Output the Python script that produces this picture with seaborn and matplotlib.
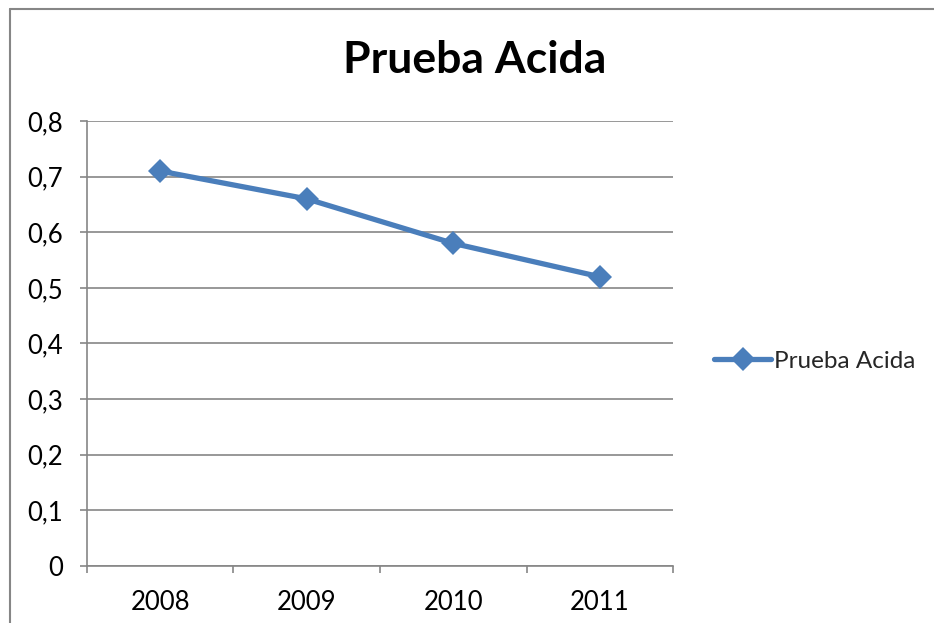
import matplotlib
matplotlib.use("Agg")
import matplotlib.pyplot as plt
import matplotlib.ticker as mticker
from matplotlib.lines import Line2D
import seaborn as sns
import pandas as pd

# Datos
anios = ["2008", "2009", "2010", "2011"]
prueba_acida = [0.71, 0.66, 0.58, 0.52]

sns.set_theme(style="white")
plt.rcParams['font.family'] = ['Lato', 'DejaVu Sans']

AZUL = "#4a7ebb"
GRIS = "#868686"

df = pd.DataFrame({"Año": anios, "Prueba Acida": prueba_acida})

fig = plt.figure(figsize=(9.34, 6.23), dpi=100)
ax = fig.add_axes([0.0931, 0.0915, 0.7206 - 0.0931, 0.8058 - 0.0915])

sns.lineplot(data=df, x="Año", y="Prueba Acida", ax=ax, color=AZUL,
             linewidth=3.8, marker="D", markersize=12, markeredgewidth=0,
             sort=False)

ax.set_ylim(0, 0.8)
ax.set_xlim(-0.5, len(anios) - 0.5)
ax.set_yticks([i / 10 for i in range(9)])
ax.yaxis.set_major_formatter(mticker.FuncFormatter(
    lambda v, p: "0" if abs(v) < 1e-9 else f"{v:.1f}".replace(".", ",")))
ax.yaxis.grid(True, color=GRIS, linewidth=1.2)
ax.set_axisbelow(True)

# marcas del eje x entre categorías
ax.set_xticks(range(len(anios)))
ax.set_xticklabels(anios)
ax.set_xticks([i - 0.5 for i in range(len(anios) + 1)], minor=True)
ax.tick_params(axis="x", which="major", length=0, pad=17, labelsize=18.5, colors="black")
ax.tick_params(axis="x", which="minor", length=5, width=1.2, color=GRIS, bottom=True, direction="out")
ax.tick_params(axis="y", length=5, width=1.2, color=GRIS, left=True, direction="out",
               labelsize=18.5, pad=12, colors="black")
for lbl in ax.get_yticklabels():
    lbl.set_color("black")

for s in ["top", "right"]:
    ax.spines[s].set_visible(False)
for s in ["left", "bottom"]:
    ax.spines[s].set_color(GRIS)
    ax.spines[s].set_linewidth(1.2)
ax.set_xlabel("")
ax.set_ylabel("")

fig.text(0.508, 0.904, "Prueba Acida", ha="center", va="center",
         fontsize=32, fontweight="bold", color="black")

# leyenda a la derecha
handle = Line2D([], [], color=AZUL, linewidth=3.8, marker="D", markersize=12, markeredgewidth=0)
fig.legend([handle], ["Prueba Acida"], loc="center left", bbox_to_anchor=(0.754, 0.42),
           frameon=False, fontsize=17.5, handlelength=2.35, handletextpad=0.1, borderaxespad=0)

# borde del área del gráfico (solo visible arriba e izquierda)
fig.add_artist(Line2D([10 / 934, 1], [1 - 9 / 623, 1 - 9 / 623], color=GRIS, linewidth=1.5))
fig.add_artist(Line2D([10 / 934, 10 / 934], [0, 1 - 9 / 623], color=GRIS, linewidth=1.5))

fig.savefig("out.png", dpi=100)
